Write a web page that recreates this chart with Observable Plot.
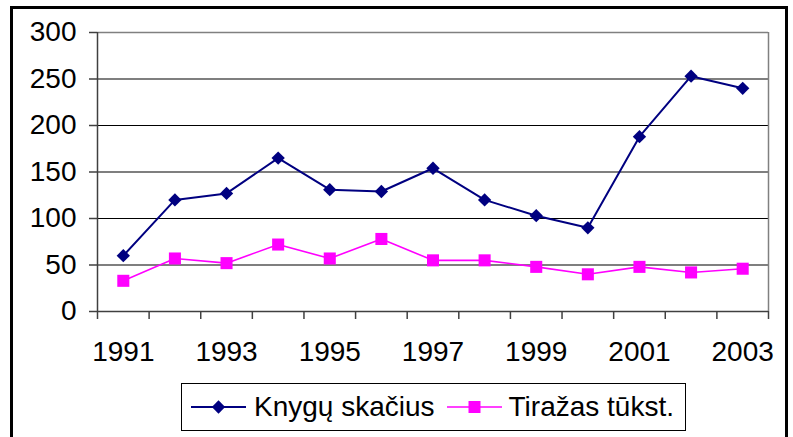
<!DOCTYPE html>
<html>
<head>
<meta charset="utf-8">
<script src="https://cdn.jsdelivr.net/npm/d3@7"></script>
<script src="https://cdn.jsdelivr.net/npm/@observablehq/plot@0.6"></script>
<style>
  html, body { margin: 0; padding: 0; background: white; }
  #wrap { position: relative; width: 793px; height: 437px; overflow: hidden; background: white; font-family: "Liberation Sans", Arial, sans-serif; }
  #chart { position: absolute; left: 0; top: 0; }
  #frame { position: absolute; left: 10px; top: 6px; width: 772px; height: 480px; border: 3px solid black; pointer-events: none; }
  #legend { position: absolute; left: 181px; top: 383px; width: 503px; height: 46px; border: 1px solid black; background: white; display: flex; align-items: center; font-size: 28px; color: black; }
  .item { display: flex; align-items: center; }
  .item svg { display: block; }
</style>
</head>
<body>
<div id="wrap">
  <div id="chart"></div>
  <div id="frame"></div>
  <div id="legend"></div>
</div>
<script>
const years = [1991, 1992, 1993, 1994, 1995, 1996, 1997, 1998, 1999, 2000, 2001, 2002, 2003];
const knygos = [60, 120, 127, 165, 131, 129, 154, 120, 103, 90, 188, 253, 240];
const tirazas = [33, 57, 52, 72, 57, 78, 55, 55, 48, 40, 48, 42, 46];
const seriesNames = ["Knygų skačius", "Tiražas tūkst."];
const seriesColors = ["#000080", "#FF00FF"];
const yTicks = [0, 50, 100, 150, 200, 250, 300];
const labelYears = [1991, 1993, 1995, 1997, 1999, 2001, 2003];

const data = [];
years.forEach((y, i) => {
  data.push({year: y, value: knygos[i], series: seriesNames[0]});
  data.push({year: y, value: tirazas[i], series: seriesNames[1]});
});
const boundaries = [...years.map(y => y - 0.5), years[years.length - 1] + 0.5];
const xDomain = [boundaries[0], boundaries[boundaries.length - 1]];

const chart = Plot.plot({
  width: 793,
  height: 437,
  marginLeft: 97,
  marginRight: 25,
  marginTop: 32,
  marginBottom: 126,
  style: { fontFamily: "'Liberation Sans', Arial, sans-serif", fontSize: "28px", background: "transparent", color: "black", overflow: "visible" },
  x: { type: "linear", domain: xDomain },
  y: { domain: [0, 300] },
  marks: [
    Plot.ruleY(yTicks.filter(v => v > 0 && v < 300), { stroke: "black", strokeWidth: 1.2 }),
    Plot.ruleY([300], { stroke: "#808080", strokeWidth: 1.5 }),
    Plot.ruleX([xDomain[1]], { stroke: "#808080", strokeWidth: 1.5 }),
    Plot.ruleX([xDomain[0]], { stroke: "#404040", strokeWidth: 1.5 }),
    Plot.ruleY([0], { stroke: "#404040", strokeWidth: 1.5 }),
    Plot.axisY({ ticks: yTicks, tickSize: 8, tickPadding: 13, stroke: "#404040", strokeWidth: 1.5, tickFormat: d => String(d), fill: "black", label: null }),
    Plot.axisX({ ticks: boundaries, tickSize: 8, stroke: "#404040", strokeWidth: 1.5, tickFormat: () => "", label: null }),
    Plot.axisX({ ticks: labelYears, tickSize: 0, tickPadding: 30, tickFormat: d => String(d), fill: "black", label: null }),
    Plot.line(data.filter(d => d.series === seriesNames[1]), { x: "year", y: "value", stroke: seriesColors[1], strokeWidth: 1.6 }),
    Plot.dot(data.filter(d => d.series === seriesNames[1]), { x: "year", y: "value", symbol: "square", r: 6.8, fill: seriesColors[1], stroke: "none" }),
    Plot.line(data.filter(d => d.series === seriesNames[0]), { x: "year", y: "value", stroke: seriesColors[0], strokeWidth: 2 }),
    Plot.dot(data.filter(d => d.series === seriesNames[0]), { x: "year", y: "value", symbol: "diamond2", r: 6, fill: seriesColors[0], stroke: "none" })
  ]
});
document.getElementById("chart").appendChild(chart);

// Legend
const legend = document.getElementById("legend");
const symbols = [d3.symbolDiamond2, d3.symbolSquare];
const sizes = [113, 144];
const legendGaps = [["9px", "8px"], ["12px", "7px"]];
seriesNames.forEach((name, i) => {
  const item = document.createElement("div");
  item.className = "item";
  item.style.marginLeft = legendGaps[i][0];
  const svg = d3.create("svg").attr("width", 55).attr("height", 20);
  svg.append("line").attr("x1", 0).attr("x2", 55).attr("y1", 10).attr("y2", 10)
    .attr("stroke", seriesColors[i]).attr("stroke-width", i === 0 ? 2 : 1.6);
  svg.append("path").attr("transform", "translate(27.5,10)")
    .attr("d", d3.symbol(symbols[i], sizes[i])()).attr("fill", seriesColors[i]);
  item.appendChild(svg.node());
  const t = document.createElement("span");
  t.textContent = name;
  t.style.marginLeft = legendGaps[i][1];
  item.appendChild(t);
  legend.appendChild(item);
});
</script>
</body>
</html>
